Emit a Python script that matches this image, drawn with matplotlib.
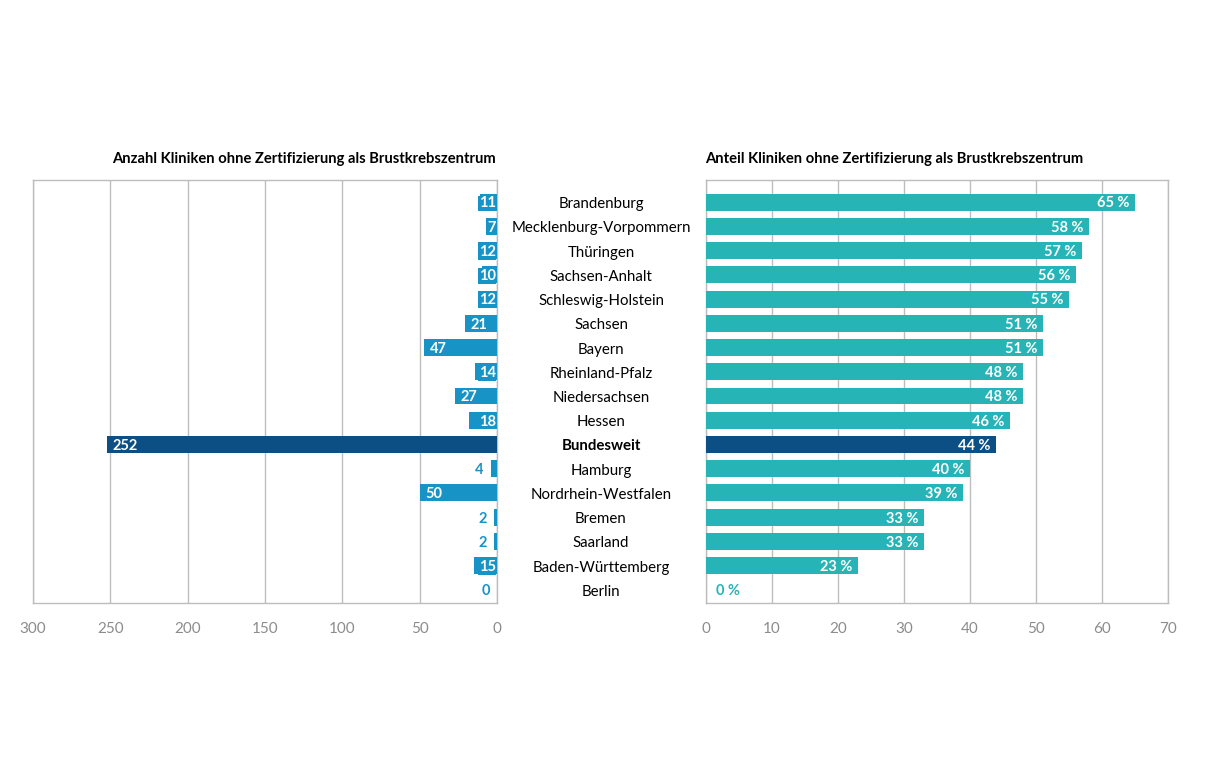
import matplotlib.pyplot as plt
import numpy as np

plt.rcParams['font.family'] = ['Lato', 'DejaVu Sans']

# ── DATA ──────────────────────────────────────────────────
laender = ["Brandenburg", "Mecklenburg-Vorpommern", "Thüringen", "Sachsen-Anhalt",
           "Schleswig-Holstein", "Sachsen", "Bayern", "Rheinland-Pfalz",
           "Niedersachsen", "Hessen", "Bundesweit", "Hamburg",
           "Nordrhein-Westfalen", "Bremen", "Saarland", "Baden-Württemberg", "Berlin"]
anzahl = [11, 7, 12, 10, 12, 21, 47, 14, 27, 18, 252, 4, 50, 2, 2, 15, 0]
anteil = [65, 58, 57, 56, 55, 51, 51, 48, 48, 46, 44, 40, 39, 33, 33, 23, 0]
left_ticks = [300, 250, 200, 150, 100, 50, 0]
right_ticks = [0, 10, 20, 30, 40, 50, 60, 70]

title_left = "Anzahl Kliniken ohne Zertifizierung als Brustkrebszentrum"
title_right = "Anteil Kliniken ohne Zertifizierung als Brustkrebszentrum"

# ── STYLE ─────────────────────────────────────────────────
C_LEFT = "#1893c6"
C_RIGHT = "#27b4b7"
C_BUND = "#0c4f84"
GRID = "#bdbdbd"
TICK = "#8c8c8c"

W, H = 1220, 762
fig = plt.figure(figsize=(W / 100, H / 100), dpi=100)

def box(x0, x1, y0, y1):
    return [x0 / W, 1 - y1 / H, (x1 - x0) / W, (y1 - y0) / H]

axL = fig.add_axes(box(33, 497, 180, 603))
axR = fig.add_axes(box(706, 1168, 180, 603))

y = np.arange(len(laender))
bund = laender.index("Bundesweit")
colsL = [C_BUND if i == bund else C_LEFT for i in y]
colsR = [C_BUND if i == bund else C_RIGHT for i in y]

axL.barh(y, anzahl, height=0.7, color=colsL, zorder=3)
axR.barh(y, anteil, height=0.7, color=colsR, zorder=3)

for ax, lim, ticks in [(axL, (300, 0), left_ticks), (axR, (0, 70), right_ticks)]:
    ax.set_xlim(*lim)
    ax.set_ylim(16.54, -0.91)
    ax.set_xticks(ticks)
    ax.set_yticks([])
    ax.grid(axis='x', color=GRID, linewidth=1, zorder=0)
    ax.tick_params(axis='x', length=0, pad=14, labelsize=11, labelcolor=TICK)
    for s in ax.spines.values():
        s.set_color(GRID)
        s.set_linewidth(1)

# left value labels
for i, v in enumerate(anzahl):
    if v >= 20:
        axL.annotate(str(v), (v, i), xytext=(4, -1), textcoords='offset points',
                     ha='left', va='center', color='white', fontweight='bold',
                     fontsize=10.5, zorder=4)
    elif v >= 5:
        axL.annotate(str(v), (0, i), xytext=(-1, -1), textcoords='offset points',
                     ha='right', va='center', color='white', fontweight='bold',
                     fontsize=10.5, zorder=4,
                     bbox=dict(boxstyle='square,pad=0.05', fc=C_LEFT, ec='none'))
    else:
        axL.annotate(str(v), (v, i), xytext=(-5, -1), textcoords='offset points',
                     ha='right', va='center', color=C_LEFT, fontweight='bold',
                     fontsize=10.5, zorder=4)

# right value labels
for i, v in enumerate(anteil):
    if v > 5:
        axR.annotate(f"{v} %", (v, i), xytext=(-4, -1), textcoords='offset points',
                     ha='right', va='center', color='white', fontweight='bold',
                     fontsize=10.5, zorder=4)
    else:
        axR.annotate(f"{v} %", (v, i), xytext=(7, -1), textcoords='offset points',
                     ha='left', va='center', color=C_RIGHT, fontweight='bold',
                     fontsize=10.5, zorder=4)

# category names in the middle
for i, name in enumerate(laender):
    axL.annotate(name, (0, i), xycoords=('axes fraction', 'data'),
                 xytext=(601 - 33, -2), textcoords='offset pixels',
                 ha='center', va='center', fontsize=10.8, color='black',
                 fontweight='bold' if i == bund else 'normal', annotation_clip=False)

fig.text(496 / W, 1 - 159 / H, title_left, ha='right', va='center',
         fontsize=10.6, fontweight='bold')
fig.text(705 / W, 1 - 159 / H, title_right, ha='left', va='center',
         fontsize=10.6, fontweight='bold')

fig.savefig("out.png", dpi=100)
